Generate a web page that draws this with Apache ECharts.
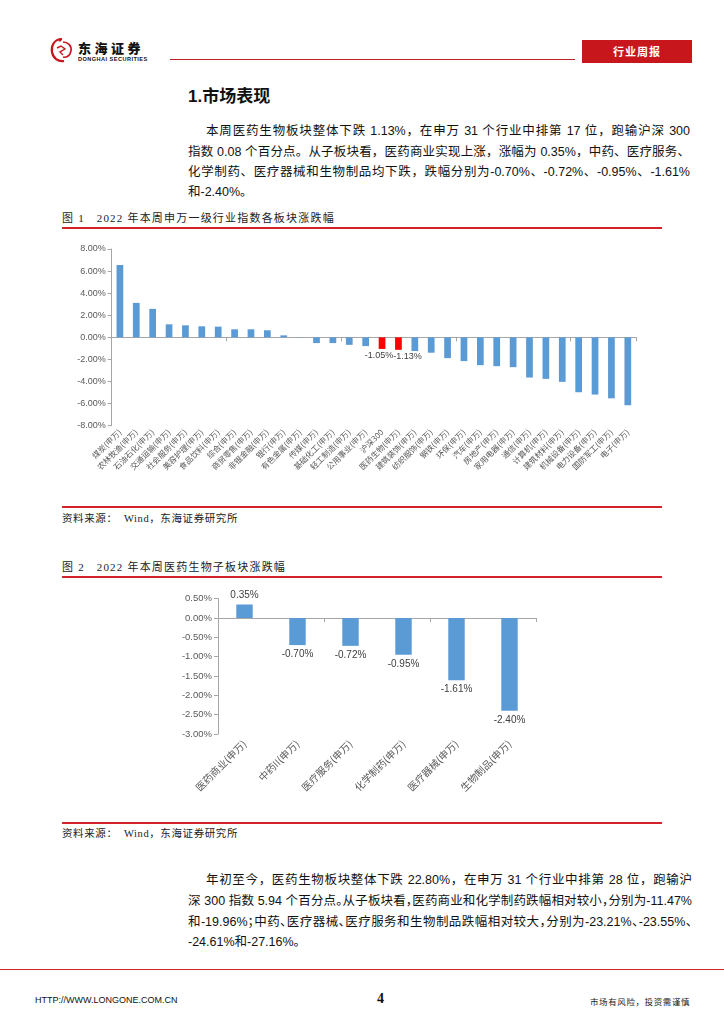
<!DOCTYPE html>
<html>
<head>
<meta charset="utf-8">
<script src="https://cdn.jsdelivr.net/npm/echarts@6/dist/echarts.min.js"></script>
<style>
  html, body { margin: 0; padding: 0; background: #fff; }
  body { width: 724px; height: 1024px; position: relative; overflow: hidden; }
  .abs { position: absolute; white-space: nowrap; }
  .cn { font-family: "Liberation Sans", "Noto Sans CJK SC", sans-serif; color: #111; }
  .serif { font-family: "Liberation Serif", "Noto Sans CJK SC", serif; color: #222; }
  .jl { text-align: justify; text-align-last: justify; white-space: nowrap; }
  .halt { font-feature-settings: "halt" 1; }
  .redline { position: absolute; left: 62px; width: 600px; height: 2px; background: #D3232A; }
</style>
</head>
<body>
<!-- header -->
<svg class="abs" style="left:48px;top:36px" width="28" height="28" viewBox="0 0 28 28">
  <path d="M14 3 C6 3 3 10 4 16 C5 22 10 26 16 25" fill="none" stroke="#C8161D" stroke-width="2.2"/>
  <path d="M15 6 C20 6 24 10 23 15 C22 20 18 22 15 21" fill="none" stroke="#C8161D" stroke-width="1.6"/>
  <path d="M9 12 L13 10 L17 13 L12 16 L15 19" fill="none" stroke="#C8161D" stroke-width="1.4"/>
  <circle cx="12" cy="4" r="1.6" fill="#C8161D"/>
</svg>
<div class="abs" style="left:78px;top:40px;font-family:'Noto Sans CJK SC';font-weight:900;font-size:13px;letter-spacing:3.5px;color:#111;line-height:15px">东海证券</div>
<div class="abs" style="left:78px;top:56px;font-family:'Liberation Sans';font-weight:bold;font-size:5.6px;letter-spacing:0.45px;color:#111;line-height:7px">DONGHAI SECURITIES</div>
<div class="abs" style="left:170px;top:59px;width:405px;height:1px;background:#B5222A"></div>
<div class="abs" style="left:582px;top:40px;width:110px;height:23px;background:#C8161D;color:#fff;font-family:'Noto Sans CJK SC';font-weight:bold;font-size:11px;line-height:23px;text-align:center;letter-spacing:1px">行业周报</div>

<!-- heading -->
<div class="abs" style="left:188px;top:86px;font-family:'Liberation Sans','Noto Sans CJK SC';font-weight:bold;font-size:17px;line-height:22px;color:#111">1.市场表现</div>

<!-- paragraph 1 -->
<div class="abs cn jl" style="left:206px;top:121px;width:484px;font-size:12.5px;line-height:20px">本周医药生物板块整体下跌 1.13%，在申万 31 个行业中排第 17 位，跑输沪深 300</div>
<div class="abs cn jl" style="left:188px;top:141.5px;width:502px;font-size:12.5px;line-height:20px">指数 0.08 个百分点。从子板块看，医药商业实现上涨，涨幅为 0.35%，中药、医疗服务、</div>
<div class="abs cn jl" style="left:188px;top:162px;width:502px;font-size:12.5px;line-height:20px">化学制药、医疗器械和生物制品均下跌，跌幅分别为-0.70%、-0.72%、-0.95%、-1.61%</div>
<div class="abs cn" style="left:188px;top:182px;font-size:12.5px;line-height:20px">和-2.40%。</div>

<!-- figure 1 -->
<div class="abs serif" style="left:62px;top:210px;font-size:11px;line-height:16px;letter-spacing:1.2px">图 1&nbsp;&nbsp;&nbsp;2022 年本周申万一级行业指数各板块涨跌幅</div>
<div class="redline" style="top:227px"></div>
<div id="c1" class="abs" style="left:0;top:235px;width:724px;height:268px"></div>
<div class="redline" style="top:506px"></div>
<div class="abs serif" style="left:62px;top:511px;font-size:10.5px;line-height:15px;letter-spacing:0.6px">资料来源：&nbsp;&nbsp;Wind，东海证券研究所</div>

<!-- figure 2 -->
<div class="abs serif" style="left:62px;top:559px;font-size:11px;line-height:16px;letter-spacing:1.2px">图 2&nbsp;&nbsp;&nbsp;2022 年本周医药生物子板块涨跌幅</div>
<div class="redline" style="top:576px"></div>
<div id="c2" class="abs" style="left:0;top:585px;width:724px;height:234px"></div>
<div class="redline" style="top:822px"></div>
<div class="abs serif" style="left:62px;top:826px;font-size:10.5px;line-height:15px;letter-spacing:0.6px">资料来源：&nbsp;&nbsp;Wind，东海证券研究所</div>

<!-- paragraph 2 -->
<div class="abs cn jl" style="left:206px;top:870px;width:486px;font-size:12.5px;line-height:20px">年初至今，医药生物板块整体下跌 22.80%，在申万 31 个行业中排第 28 位，跑输沪</div>
<div class="abs cn jl halt" style="left:188px;top:891px;width:504px;font-size:12.5px;line-height:20px">深 300 指数 5.94 个百分点。从子板块看，医药商业和化学制药跌幅相对较小，分别为-11.47%</div>
<div class="abs cn jl halt" style="left:188px;top:912px;width:504px;font-size:12.5px;line-height:20px">和-19.96%；中药、医疗器械、医疗服务和生物制品跌幅相对较大，分别为-23.21%、-23.55%、</div>
<div class="abs cn halt" style="left:188px;top:932px;font-size:12.5px;line-height:20px">-24.61%和-27.16%。</div>

<!-- footer -->
<div class="abs" style="left:0;top:969px;width:724px;height:1px;background:#D3232A"></div>
<div class="abs" style="left:35px;top:994px;font-family:'Liberation Sans';font-size:9px;line-height:12px;color:#111">HTTP://WWW.LONGONE.COM.CN</div>
<div class="abs" style="left:377px;top:991px;font-family:'Liberation Serif';font-weight:bold;font-size:14px;line-height:16px;color:#111">4</div>
<div class="abs" style="left:590px;top:995px;font-family:'Noto Sans CJK SC';font-size:8.5px;line-height:12px;color:#222;letter-spacing:0.6px">市场有风险，投资需谨慎</div>

<script>
// ---- data ----
const categories1 = ['煤炭(申万)', '农林牧渔(申万)', '石油石化(申万)', '交通运输(申万)', '社会服务(申万)', '美容护理(申万)', '食品饮料(申万)', '综合(申万)', '商贸零售(申万)', '非银金融(申万)', '银行(申万)', '有色金属(申万)', '传媒(申万)', '基础化工(申万)', '轻工制造(申万)', '公用事业(申万)', '沪深300', '医药生物(申万)', '建筑装饰(申万)', '纺织服饰(申万)', '钢铁(申万)', '环保(申万)', '汽车(申万)', '房地产(申万)', '家用电器(申万)', '通信(申万)', '计算机(申万)', '建筑材料(申万)', '机械设备(申万)', '电力设备(申万)', '国防军工(申万)', '电子(申万)'];
const values1 = [6.55, 3.12, 2.58, 1.18, 1.09, 1.00, 0.97, 0.73, 0.73, 0.64, 0.18, -0.02, -0.52, -0.52, -0.68, -0.79, -1.05, -1.13, -1.24, -1.39, -1.88, -2.15, -2.52, -2.61, -2.70, -3.64, -3.76, -4.03, -4.97, -5.18, -5.52, -6.15];
const highlight1 = ['沪深300', '医药生物(申万)'];
const yTicks1 = { min: -8, max: 8, step: 2 };

const categories2 = ['医药商业(申万)', '中药II(申万)', '医疗服务(申万)', '化学制药(申万)', '医疗器械(申万)', '生物制品(申万)'];
const values2 = [0.35, -0.70, -0.72, -0.95, -1.61, -2.40];
const yTicks2 = { min: -3, max: 0.5, step: 0.5 };

// ---- styles ----
const BLUE = '#5B9BD5', RED = '#FF0000', AXIS = '#A6A6A6', TXT = '#595959';
const LBLFONT = '"Liberation Sans", "Noto Sans CJK SC", sans-serif';
const CATFONT = '"Noto Sans CJK SC", sans-serif';
const HL_LABEL_OFFSETS = [[-3, 0], [9, 0]];
const pct = v => (Math.round(v * 100) / 100).toFixed(2) + '%';

function baseAxes(cats, fontSize, margin) {
  return [
    { type: 'category', data: cats, axisLine: { onZero: true, lineStyle: { color: AXIS, width: 1 } },
      axisTick: { show: true, length: 4, lineStyle: { color: AXIS } }, axisLabel: { show: false } },
    { type: 'category', data: cats, position: 'bottom', axisLine: { show: false, onZero: false },
      axisTick: { show: false },
      axisLabel: { interval: 0, rotate: 45, fontSize: fontSize, color: TXT, margin: margin, fontFamily: CATFONT } }
  ];
}
function valueAxis(t, fontSize) {
  return { type: 'value', min: t.min, max: t.max, interval: t.step,
    axisLine: { show: true, lineStyle: { color: AXIS } },
    axisTick: { show: true, length: 4, lineStyle: { color: AXIS } },
    splitLine: { show: false },
    axisLabel: { formatter: pct, fontSize: fontSize, color: TXT, margin: 6, fontFamily: LBLFONT } };
}

const c1 = echarts.init(document.getElementById('c1'), null, { renderer: 'canvas' });
c1.setOption({
  animation: false,
  grid: { left: 111.7, right: 88, top: 14, height: 176.7 },
  xAxis: baseAxes(categories1, 8, 5),
  yAxis: valueAxis(yTicks1, 9),
  series: [{
    type: 'bar', xAxisIndex: 0, barWidth: '41%',
    data: values1.map((v, i) => {
      const h = highlight1.indexOf(categories1[i]);
      return h >= 0 ? { value: v, itemStyle: { color: RED },
        label: { show: true, position: 'bottom', distance: 2, offset: HL_LABEL_OFFSETS[h], formatter: p => pct(p.value), fontSize: 9, color: '#404040', fontFamily: LBLFONT } }
        : { value: v };
    }),
    itemStyle: { color: BLUE }
  }]
});

const c2 = echarts.init(document.getElementById('c2'), null, { renderer: 'canvas' });
c2.setOption({
  animation: false,
  grid: { left: 218, right: 188, top: 13.7, height: 135.3 },
  xAxis: baseAxes(categories2, 10, 8),
  yAxis: valueAxis(yTicks2, 9.5),
  series: [{
    type: 'bar', xAxisIndex: 0, barWidth: '31%',
    itemStyle: { color: BLUE },
    data: values2.map(v => ({ value: v,
      label: { show: true, position: v >= 0 ? 'top' : 'bottom', distance: 4, formatter: p => pct(p.value),
        fontSize: 10, color: '#404040', fontFamily: LBLFONT } }))
  }]
});
</script>
</body>
</html>
